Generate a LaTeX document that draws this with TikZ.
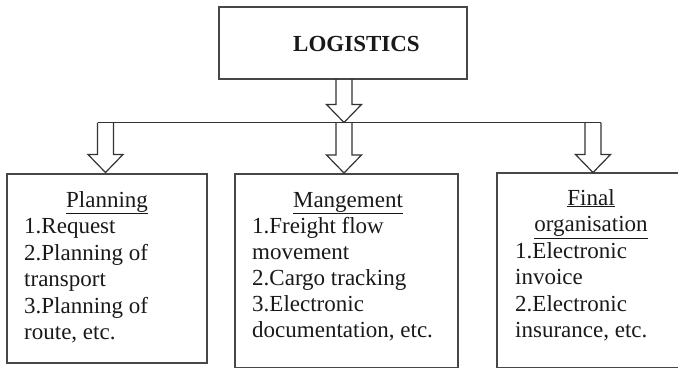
\documentclass[tikz,border=0pt]{standalone}
\usepackage{fontspec}
\setmainfont{Liberation Serif}
\tikzset{
  boxline/.style={draw=black!72, line width=1.3pt},
  arrowline/.style={draw=black!80, line width=1.2pt, line join=miter},
  bodytext/.style={inner sep=0pt, text=black!90, font=\fontsize{23}{26.5}\selectfont},
  headtext/.style={bodytext, anchor=base},
  itemtext/.style={bodytext, anchor=base west},
}
% block arrow: #1 centre x, #2 top y, #3 tip y
\newcommand\blockarrow[3]{%
  \draw[arrowline] (#1-8,#2) -- (#1-8,#3-18) -- (#1-17.5,#3-18) -- (#1,#3)
    -- (#1+17.5,#3-18) -- (#1+8,#3-18) -- (#1+8,#2);}
\begin{document}
\begin{tikzpicture}[x=1pt,y=-1pt]
\useasboundingbox (0,0) rectangle (678,369);
\begin{scope}
\clip (0,0) rectangle (678,369);
% boxes
\draw[boxline] (219,7) rectangle (467,79);
\coordinate (top) at (344,79);
\draw[boxline] (7,174) rectangle (207,363);
\draw[boxline] (235,174) rectangle (458,367.6);
\draw[boxline] (497,173) rectangle (686,367.6);
% distribution bar
\coordinate (barL) at (97.5,122.5);
\coordinate (barR) at (601,122.5);
\draw[arrowline] (barL) -- (barR);
% arrows
\blockarrow{344}{79}{122.5}
\blockarrow{105.5}{122.5}{172.5}
\blockarrow{344}{122.5}{173}
\blockarrow{593}{122.5}{172.5}
\end{scope}
% title
\node[bodytext, anchor=base, font=\fontsize{23}{26.5}\selectfont\bfseries] (title) at (356.5,52) {LOGISTICS};
% planning
\node[headtext] (ph) at (107,207) {\underline{Planning}};
\node[itemtext] (p1) at (24,233.5) {1.Request};
\node[itemtext] (p2) at (24,260) {2.Planning of};
\node[itemtext] (p3) at (24,286.5) {transport};
\node[itemtext] (p4) at (24,313) {3.Planning of};
\node[itemtext] (p5) at (24,339.5) {route, etc.};
% management
\node[headtext] (mh) at (348,207) {\underline{Mangement}};
\node[itemtext] (m1) at (252,233.5) {1.Freight flow};
\node[itemtext] (m2) at (252,259) {movement};
\node[itemtext] (m3) at (252,285) {2.Cargo tracking};
\node[itemtext] (m4) at (252,311) {3.Electronic};
\node[itemtext] (m5) at (252,337) {documentation, etc.};
% final organisation
\node[headtext] (fh1) at (591,205) {\underline{Final}};
\node[headtext] (fh2) at (591,231.5) {\underline{organisation}};
\node[itemtext] (f1) at (515,258) {1.Electronic};
\node[itemtext] (f2) at (515,284.5) {invoice};
\node[itemtext] (f3) at (515,311) {2.Electronic};
\node[itemtext] (f4) at (515,337.5) {insurance, etc.};
\end{tikzpicture}
\end{document}
